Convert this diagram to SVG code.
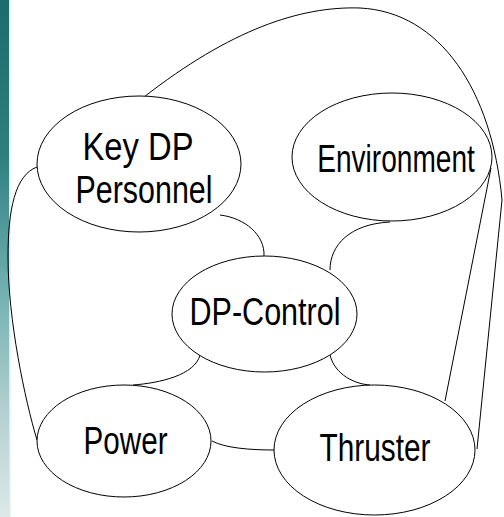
<svg xmlns="http://www.w3.org/2000/svg" width="504" height="517" viewBox="0 0 504 517">
<defs>
<linearGradient id="strip" x1="0" y1="0" x2="0" y2="1">
<stop offset="0" stop-color="#1c6c6e"/>
<stop offset="0.3" stop-color="#2f7f80"/>
<stop offset="0.55" stop-color="#6eaeae"/>
<stop offset="0.8" stop-color="#b4d0d0"/>
<stop offset="1" stop-color="#dde8e8"/>
</linearGradient>
<style>
.node ellipse{fill:#ffffff;stroke:#000000;stroke-width:1}
.node text{font-family:"Liberation Sans",Arial,sans-serif;font-size:39px;fill:#000000;text-anchor:middle}
#connectors path{fill:none;stroke:#000000;stroke-width:1}
</style>
</defs>
<rect x="0" y="0" width="504" height="517" fill="#ffffff"/>
<rect x="0" y="0" width="9" height="517" fill="url(#strip)"/>
<rect x="9" y="0" width="1.5" height="517" fill="#c6ecec" opacity="0.8"/>
<g id="connectors">
<path d="M144,97 C 230,30 300,6 360,8 C 440,12 492,90 502,200 L 477,449"/>
<path d="M491,168 L 445,401"/>
<path d="M37,167 C 15,175 8,210 8,257 C 8,320 25,400 37,440"/>
<path d="M220,215 C 245,218 265,235 264,256"/>
<path d="M390,222 C 350,224 330,245 330,270"/>
<path d="M200,355 C 195,375 160,383 133,385"/>
<path d="M330,355 C 335,375 355,384 370,385"/>
<path d="M212,441 C 225,448 250,450 274,450"/>
</g>
<g id="key-dp-personnel" class="node">
<ellipse cx="139" cy="164" rx="102" ry="68"/>
<text x="138" y="160" textLength="111" lengthAdjust="spacingAndGlyphs">Key DP</text>
<text x="144" y="203" textLength="137" lengthAdjust="spacingAndGlyphs">Personnel</text>
</g>
<g id="environment" class="node">
<ellipse cx="392" cy="157" rx="100" ry="64"/>
<text transform="translate(396,172) scale(0.72,1)" x="0" y="0">Environment</text>
</g>
<g id="dp-control" class="node">
<ellipse cx="264.5" cy="314" rx="92.5" ry="58"/>
<text x="265" y="325" textLength="151" lengthAdjust="spacingAndGlyphs">DP-Control</text>
</g>
<g id="power" class="node">
<ellipse cx="124" cy="441" rx="87" ry="56"/>
<text x="125.5" y="454" textLength="84" lengthAdjust="spacingAndGlyphs">Power</text>
</g>
<g id="thruster" class="node">
<ellipse cx="374.5" cy="450" rx="100.5" ry="65"/>
<text x="375" y="461" textLength="111" lengthAdjust="spacingAndGlyphs">Thruster</text>
</g>
</svg>
